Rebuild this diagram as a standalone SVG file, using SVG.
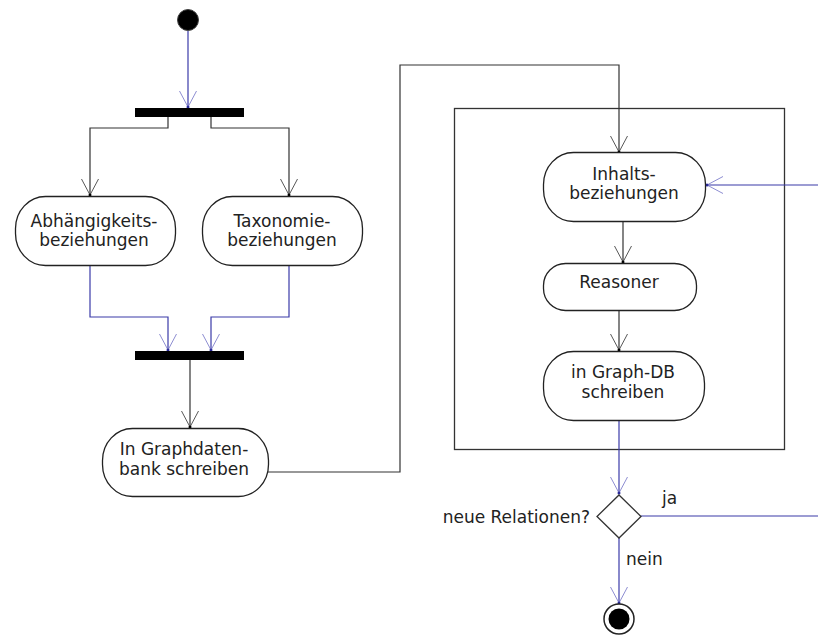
<svg xmlns="http://www.w3.org/2000/svg" width="818" height="635" viewBox="0 0 818 635">
<style>
.node{fill:#fff;stroke:#222;stroke-width:1.3}
.lbl{font-family:"DejaVu Sans",sans-serif;font-size:17px;fill:#222;text-anchor:middle}
.txt{font-family:"DejaVu Sans",sans-serif;font-size:17px;fill:#222}
.blk{fill:none;stroke:#333;stroke-width:1.2}
.blu{fill:none;stroke:#3a3aa8;stroke-width:1.2}
</style>
<defs>
<marker id="ab" markerUnits="userSpaceOnUse" markerWidth="20" markerHeight="20" viewBox="-17 -10 19 20" refX="0" refY="0" orient="auto">
<path d="M-16,-8.5 L0,0 L-16,8.5" fill="none" stroke="#444" stroke-width="0.9"/><circle cx="0" cy="0" r="1.5" fill="#000"/>
</marker>
<marker id="au" markerUnits="userSpaceOnUse" markerWidth="20" markerHeight="20" viewBox="-17 -10 19 20" refX="0" refY="0" orient="auto">
<path d="M-16,-8.5 L0,0 L-16,8.5" fill="none" stroke="#8080cc" stroke-width="0.9"/><circle cx="0" cy="0" r="1.5" fill="#2a2a99"/>
</marker>
</defs>
<rect width="818" height="635" fill="#fff"/>
<g id="frame"><rect x="454.5" y="108.5" width="330" height="341" fill="none" stroke="#333" stroke-width="1.3"/></g>
<g id="connectors">
<path class="blu" d="M188,31 V107" marker-end="url(#au)"/>
<path class="blk" d="M168,117 V128 H90 V195" marker-end="url(#ab)"/>
<path class="blk" d="M211,117 V128 H289 V195" marker-end="url(#ab)"/>
<path class="blu" d="M90,265 V317 H168 V350" marker-end="url(#au)"/>
<path class="blu" d="M289,265 V317 H211 V350" marker-end="url(#au)"/>
<path class="blk" d="M190,360 V427" marker-end="url(#ab)"/>
<path class="blk" d="M268,472 H400 V65 H619 V152" marker-end="url(#ab)"/>
<path class="blk" d="M623,221 V262" marker-end="url(#ab)"/>
<path class="blk" d="M619,311 V350" marker-end="url(#ab)"/>
<path class="blu" d="M619,420 V493" marker-end="url(#au)"/>
<path class="blu" d="M641,516 H830 V185 H707" marker-end="url(#au)"/>
<path class="blu" d="M619,538 V603" marker-end="url(#au)"/>
<text class="txt" x="662" y="504">ja</text>
<text class="txt" x="626" y="565">nein</text>
</g>
<g id="start"><circle cx="188" cy="20" r="10.5" fill="#000" stroke="#444"/></g>
<g id="fork"><rect x="135" y="108" width="109" height="9" fill="#000"/></g>
<g id="join"><rect x="135" y="351" width="109" height="9" fill="#000"/></g>
<g id="abh"><rect class="node" x="15.5" y="196.5" width="160" height="69" rx="30" ry="32"/>
<text class="lbl" x="94" y="227">Abhängigkeits-</text><text class="lbl" x="94" y="246">beziehungen</text></g>
<g id="tax"><rect class="node" x="202.5" y="196.5" width="160" height="69" rx="30" ry="32"/>
<text class="lbl" x="282" y="227">Taxonomie-</text><text class="lbl" x="282" y="246">beziehungen</text></g>
<g id="graphdb1"><rect class="node" x="102.5" y="428.5" width="166" height="68" rx="30" ry="32"/>
<text class="lbl" x="184" y="455">In Graphdaten-</text><text class="lbl" x="184" y="475">bank schreiben</text></g>
<g id="inhalt"><rect class="node" x="543.5" y="152.5" width="162" height="69" rx="30" ry="32"/>
<text class="lbl" x="624" y="180">Inhalts-</text><text class="lbl" x="624" y="199">beziehungen</text></g>
<g id="reasoner"><rect class="node" x="543.5" y="263.5" width="153" height="47" rx="22" ry="22"/>
<text class="lbl" x="619" y="288">Reasoner</text></g>
<g id="graphdb2"><rect class="node" x="543.5" y="351.5" width="161" height="69" rx="30" ry="32"/>
<text class="lbl" x="623" y="378">in Graph-DB</text><text class="lbl" x="623" y="398">schreiben</text></g>
<g id="decision"><path d="M619,495 L641,516.5 L619,538 L597,516.5 Z" fill="#fff" stroke="#333" stroke-width="1.3"/>
<text class="txt" x="590" y="523" text-anchor="end">neue Relationen?</text></g>
<g id="end"><circle cx="619" cy="619" r="15" fill="#fff" stroke="#222" stroke-width="1.5"/><circle cx="619" cy="619" r="10.5" fill="#000"/></g>
</svg>
